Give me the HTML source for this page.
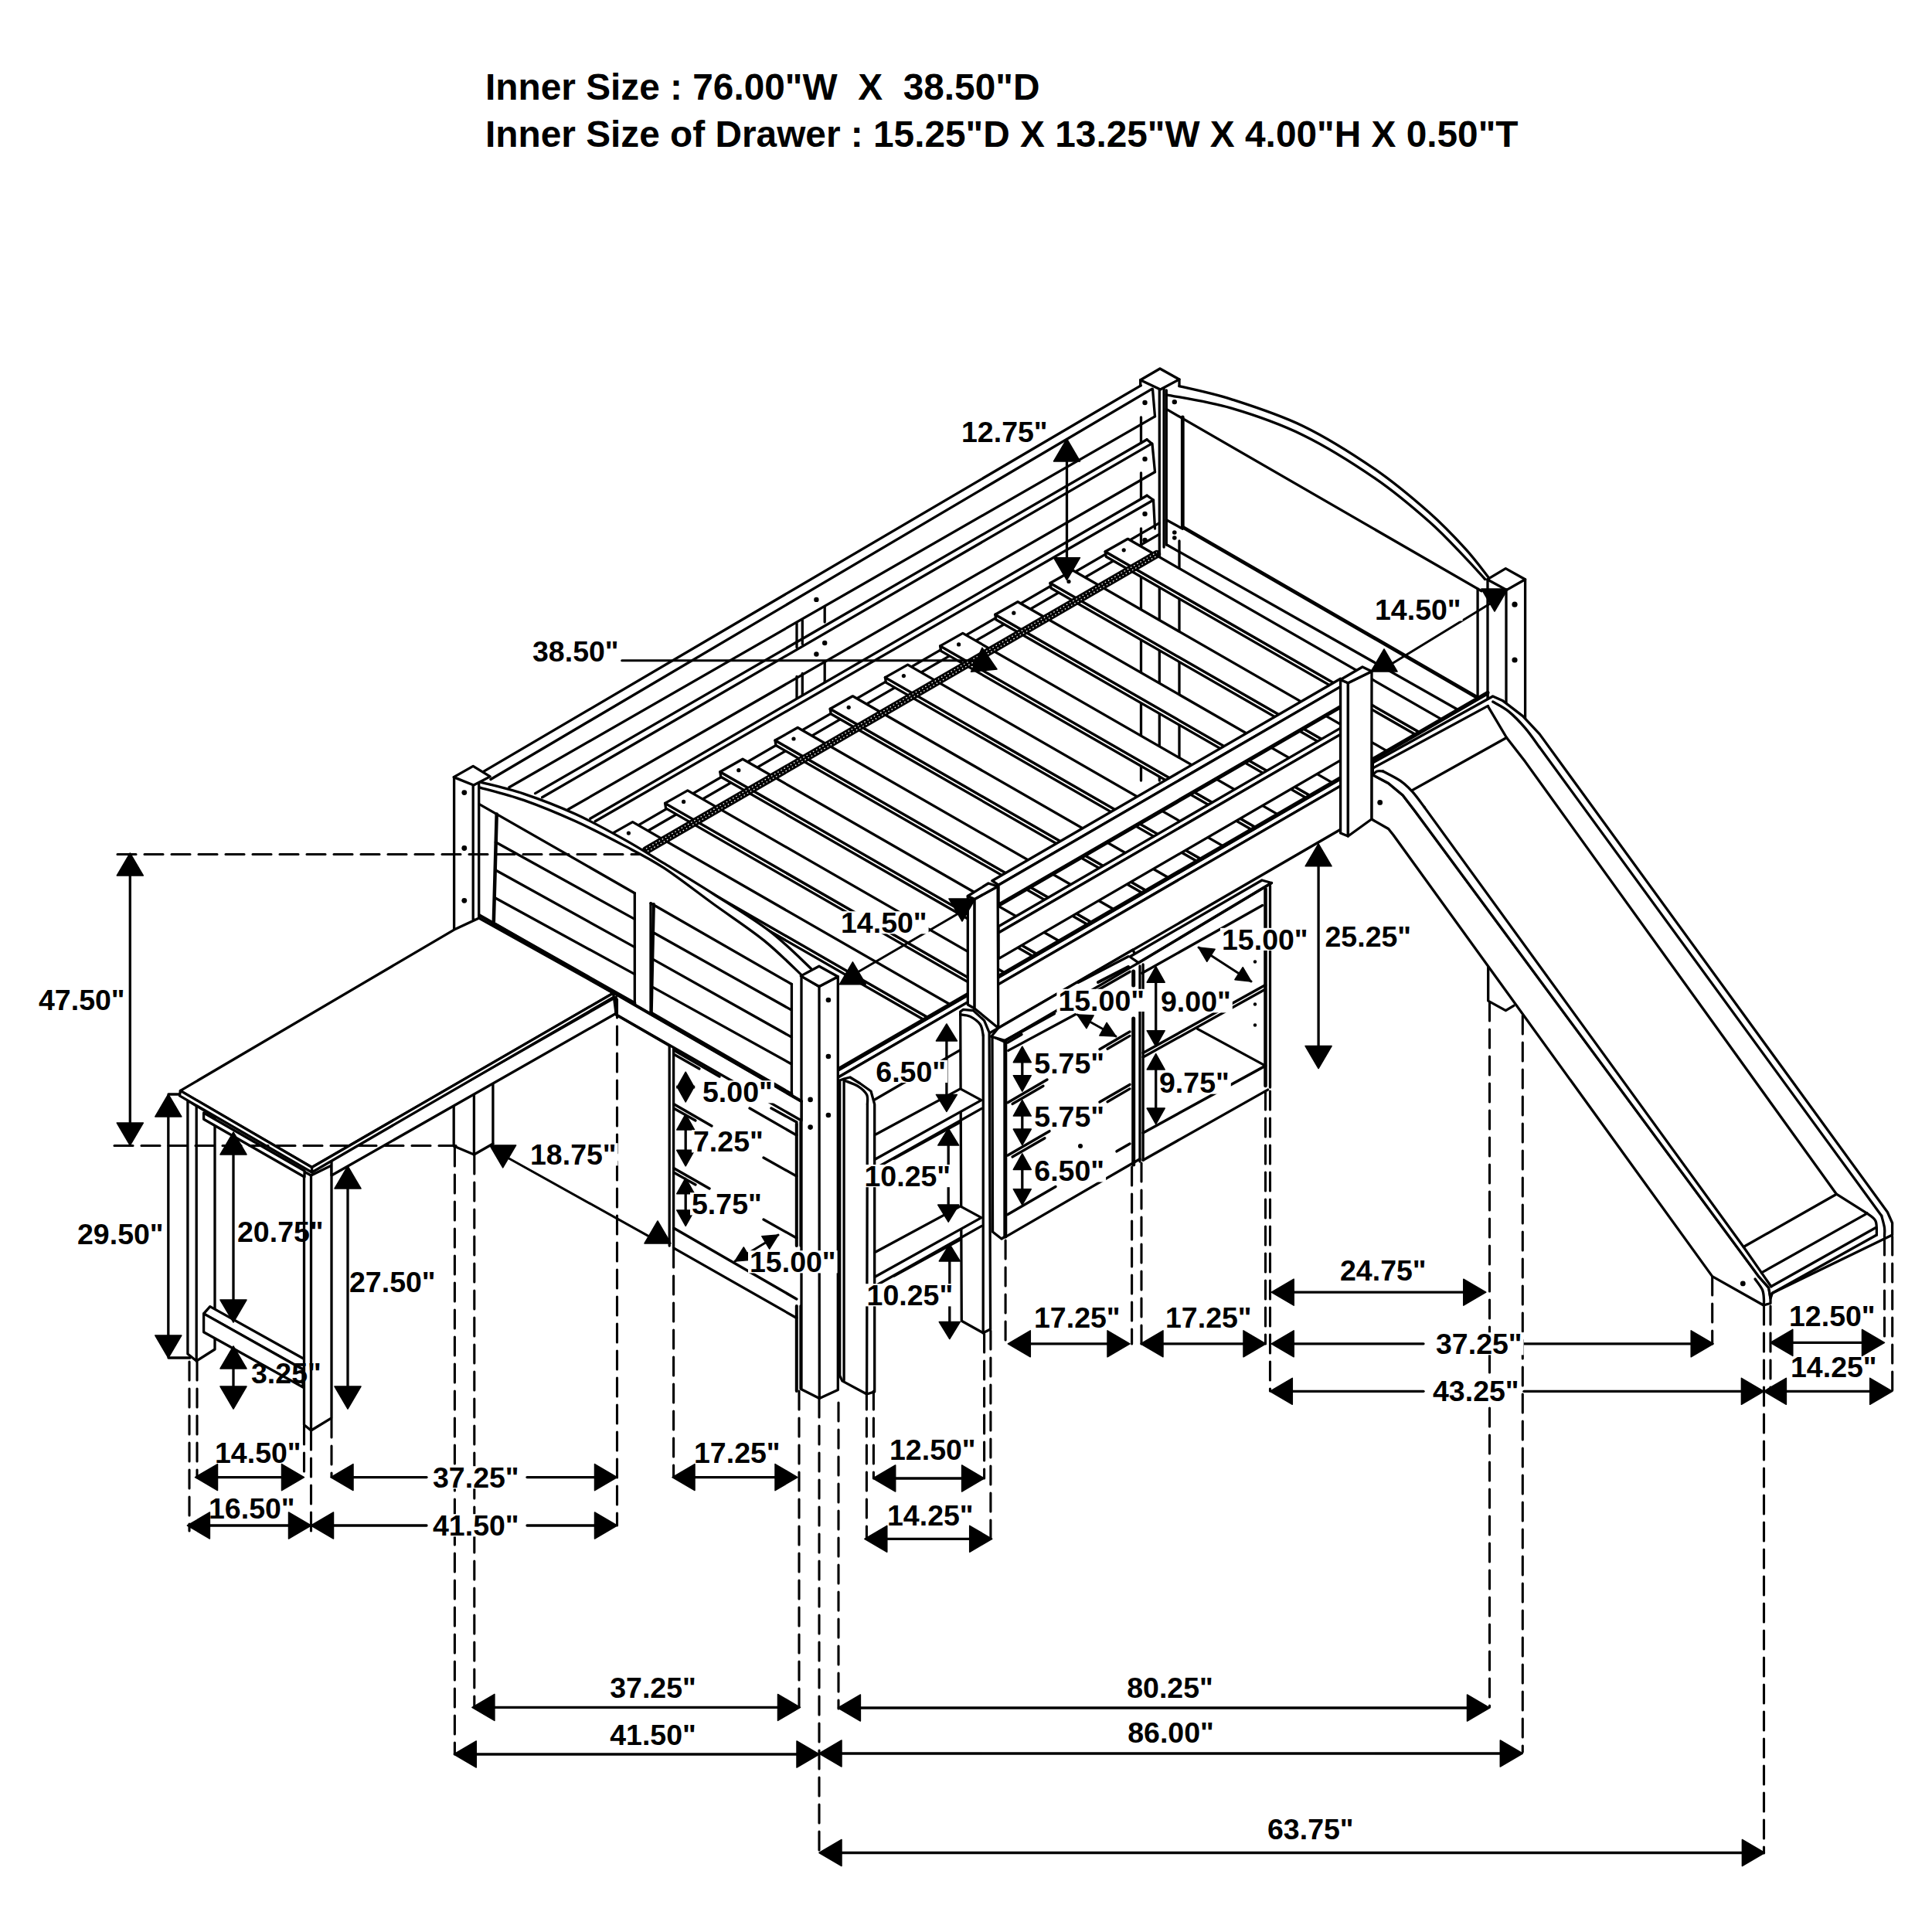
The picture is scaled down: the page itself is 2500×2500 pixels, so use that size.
<!DOCTYPE html>
<html><head><meta charset="utf-8"><title>Loft bed dimensions</title>
<style>
html,body{margin:0;padding:0;background:#fff;}
svg{display:block;}
text{font-family:"Liberation Sans",sans-serif;font-weight:bold;font-size:37.5px;white-space:pre;fill:#000;stroke:none;}
</style></head><body>
<svg width="2500" height="2500" viewBox="0 0 2500 2500">
<rect width="2500" height="2500" fill="#fff"/>
<g fill="none" stroke="#000" stroke-width="3.3" stroke-linecap="round" stroke-linejoin="round">
<path d="M622.7 1000.2 L1476.3 498.8"/>
<path d="M634.9 1008.5 L1490.6 503.3"/>
<path d="M658.9 1018.8 L1494.5 538.9"/>
<path d="M692.6 1026.6 L1484.1 568.7"/>
<path d="M701.6 1031.8 L1490.6 573.9"/>
<path d="M735.3 1047.3 L1494.5 610.7"/>
<path d="M763.8 1059.2 L1484.1 641.2"/>
<path d="M770.2 1062.8 L1492.5 647"/>
<path d="M1491.5 503.5 L1494.5 538.9"/>
<path d="M1484.1 568.7 L1491 574.5 L1494.5 610.7"/>
<path d="M1484.1 641.2 L1492.5 647 L1494.5 684"/>
<path d="M1476.5 540 L1476.5 573"/>
<path d="M1476.5 612 L1476.5 645"/>
<path d="M1031 806.7 L1031 837.5"/>
<path d="M1038.3 802.5 L1038.3 833.3"/>
<path d="M1067.2 785 L1067.2 805"/>
<path d="M1031 875.5 L1031 902.7"/>
<path d="M1038.3 871.3 L1038.3 898.5"/>
<path d="M1067.2 857.4 L1067.2 882.8"/>
<circle cx="1056.4" cy="775.9" r="3.2" fill="#000" stroke="none"/>
<circle cx="1067.2" cy="832" r="3.2" fill="#000" stroke="none"/>
<circle cx="1056.4" cy="846.5" r="3.2" fill="#000" stroke="none"/>
<path d="M1475.7 491.7 L1501 477 L1526 491 L1501.5 504 L1475.7 491.7"/>
<path d="M1475.7 491.7 L1475.7 499"/>
<path d="M1526 491 L1526 499.5"/>
<path d="M1500.3 504 L1500.3 1010"/>
<path d="M1506.1 503 L1506.1 708"/>
<path d="M1476.5 684 L1476.5 1010"/>
<path d="M1526 700 L1526 1010"/>
<circle cx="1481.5" cy="521" r="3.2" fill="#000" stroke="none"/>
<circle cx="1481.5" cy="594" r="3.2" fill="#000" stroke="none"/>
<circle cx="1481.5" cy="665" r="3.2" fill="#000" stroke="none"/>
<circle cx="1481.5" cy="699" r="3.2" fill="#000" stroke="none"/>
<path d="M1924.4 749.8 L1948.3 735.6 L1973.6 749.8 L1949.6 763.4Z" fill="#fff"/>
<path d="M1925 750 L1925 902"/>
<path d="M1949 763.4 L1949 912"/>
<path d="M1973.6 749.8 L1973.6 943"/>
<circle cx="1960" cy="782.2" r="3.6" fill="#000" stroke="none"/>
<circle cx="1960" cy="854" r="3.6" fill="#000" stroke="none"/>
<path d="M1912.1 762 L1912.1 903"/>
<path d="M1509.3 505 L1509.3 705"/>
<path d="M1526 499.7 C1537.2 502.5 1566.5 508 1593.2 516.6 C1619.9 525.2 1655.4 536.4 1686.4 551.5 C1717.5 566.6 1752.3 588.8 1779.5 607.4 C1806.7 626 1830 646.2 1849.4 663.3 C1868.8 680.4 1883.2 695.9 1896 709.9 C1908.8 723.9 1921 740.8 1926 747"/>
<path d="M1509.3 510.8 C1523.3 513.7 1563.7 519.5 1593.2 528.2 C1622.7 536.9 1655.4 548.1 1686.4 563.2 C1717.5 578.4 1752.3 600.5 1779.5 619.1 C1806.7 637.7 1830 657.9 1849.4 675 C1868.8 692.1 1884 709.2 1896 721.6 C1908 734 1917.3 744.9 1921.6 749.5"/>
<path d="M1509.3 529.4 L1917 764.7"/>
<path d="M1530.3 540 L1530.3 682" stroke-width="4.8"/>
<path d="M1530.3 682 L1914.6 904.4" stroke-width="4.8"/>
<path d="M1509.3 672.7 L1530.3 684.3"/>
<path d="M1510 705 L1900 926"/>
<circle cx="1519.8" cy="520.1" r="3.2" fill="#000" stroke="none"/>
<circle cx="1519.8" cy="689" r="2.8" fill="#000" stroke="none"/>
<circle cx="1519.8" cy="696" r="2.8" fill="#000" stroke="none"/>
<path d="M818.6 1072.1 L1500 676.9"/>
<path d="M828.6 1080.8 L1500 691.4"/>
<path d="M1430.2 713.8 L1431.2 720.3 L1839 954.8 L1838 948.3Z" fill="#fff"/>
<path d="M1430.2 713.8 L1459.4 697.3 L1866.8 931.6 L1838 948.3Z" fill="#fff"/>
<circle cx="1454.2" cy="711.8" r="2.6" fill="#000" stroke="none"/>
<path d="M1359 754.5 L1360 761 L1768.3 995.8 L1767.3 989.3Z" fill="#fff"/>
<path d="M1359 754.5 L1388.2 738 L1796.1 972.6 L1767.3 989.3Z" fill="#fff"/>
<circle cx="1383" cy="752.5" r="2.6" fill="#000" stroke="none"/>
<path d="M1287.8 795.2 L1288.8 801.7 L1697.6 1036.8 L1696.6 1030.3Z" fill="#fff"/>
<path d="M1287.8 795.2 L1317 778.7 L1725.4 1013.6 L1696.6 1030.3Z" fill="#fff"/>
<circle cx="1311.8" cy="793.2" r="2.6" fill="#000" stroke="none"/>
<path d="M1216.6 835.9 L1217.6 842.4 L1626.9 1077.8 L1625.9 1071.3Z" fill="#fff"/>
<path d="M1216.6 835.9 L1245.8 819.4 L1654.8 1054.6 L1625.9 1071.3Z" fill="#fff"/>
<circle cx="1240.6" cy="833.9" r="2.6" fill="#000" stroke="none"/>
<path d="M1145.4 876.6 L1146.4 883.1 L1556.3 1118.8 L1555.3 1112.3Z" fill="#fff"/>
<path d="M1145.4 876.6 L1174.6 860.1 L1584.1 1095.6 L1555.3 1112.3Z" fill="#fff"/>
<circle cx="1169.4" cy="874.6" r="2.6" fill="#000" stroke="none"/>
<path d="M1074.2 917.3 L1075.2 923.8 L1485.6 1159.8 L1484.6 1153.3Z" fill="#fff"/>
<path d="M1074.2 917.3 L1103.4 900.8 L1513.4 1136.5 L1484.6 1153.3Z" fill="#fff"/>
<circle cx="1098.2" cy="915.3" r="2.6" fill="#000" stroke="none"/>
<path d="M1003 958 L1004 964.5 L1414.9 1200.8 L1413.9 1194.3Z" fill="#fff"/>
<path d="M1003 958 L1032.2 941.5 L1442.7 1177.5 L1413.9 1194.3Z" fill="#fff"/>
<circle cx="1027" cy="956" r="2.6" fill="#000" stroke="none"/>
<path d="M931.8 998.7 L932.8 1005.2 L1344.2 1241.8 L1343.2 1235.3Z" fill="#fff"/>
<path d="M931.8 998.7 L961 982.2 L1372 1218.5 L1343.2 1235.3Z" fill="#fff"/>
<circle cx="955.8" cy="996.7" r="2.6" fill="#000" stroke="none"/>
<path d="M860.6 1039.4 L861.6 1045.9 L1273.5 1282.8 L1272.5 1276.3Z" fill="#fff"/>
<path d="M860.6 1039.4 L889.8 1022.9 L1301.3 1259.5 L1272.5 1276.3Z" fill="#fff"/>
<circle cx="884.6" cy="1037.4" r="2.6" fill="#000" stroke="none"/>
<path d="M789.4 1080.1 L790.4 1086.6 L1202.8 1323.8 L1201.8 1317.3Z" fill="#fff"/>
<path d="M789.4 1080.1 L818.6 1063.6 L1230.7 1300.5 L1201.8 1317.3Z" fill="#fff"/>
<circle cx="813.4" cy="1078.1" r="2.6" fill="#000" stroke="none"/>
<path d="M836 1100.4 L1497 717" stroke-width="10.5"/>
<path d="M836 1098.2 L1497 714.8" stroke-width="1.3" stroke-dasharray="1.6 3.2" stroke="#fff" stroke-linecap="butt"/>
<path d="M838 1101.4 L1497 719.2" stroke-width="1.3" stroke-dasharray="1.6 3.2" stroke="#fff" stroke-linecap="butt"/>
<path d="M1084.3 1385.4 L1925 897.8 L1925 906.6 L1084.3 1394.2Z" fill="#fff"/>
<path d="M1084.3 1394.2 L1925 906.6 L1925 962.9 L1084.3 1450.5Z" fill="#fff"/>
<path d="M1084.3 1383.9 L1925 896.3" stroke-width="5"/>
<path d="M1292.1 1198.7 L1734.6 942.1 L1734.6 950.4 L1292.1 1207Z" fill="#fff"/>
<path d="M1292.1 1207 L1734.6 950.4 L1734.6 983.9 L1292.1 1240.6Z" fill="#fff"/>
<path d="M1283.8 1139.7 L1734.6 878.3 L1734.6 888.6 L1292.1 1145.2Z" fill="#fff"/>
<path d="M1292.1 1145.2 L1734.6 888.6 L1734.6 913.6 L1292.1 1170.2Z" fill="#fff"/>
<path d="M1292.1 1171.7 L1734.6 915.1" stroke-width="4.5"/>
<path d="M619.7 1012.1 L649.2 1018.8 L677.6 1027.1 L711.3 1039.3 L744.9 1053.5 L776 1069 L807 1085.9 L832.9 1100.9 L858.8 1116.9 L891.1 1136.9 L923.5 1157 L959.7 1180.3 L996 1204.9 L1024.4 1229.5 L1050.3 1254.1 L1037.4 1261.9 L1037.4 1424.9 L619.7 1184.2Z" fill="#fff" stroke="none"/>
<path d="M587.1 1005.6 L612.2 991.4 L634.2 1004.9 L612.9 1016Z" fill="#fff"/>
<path d="M587.6 1005.6 L587.6 1204.9"/>
<path d="M612.2 1016 L612.2 1189.4"/>
<path d="M619.7 1013.4 L619.7 1186.8"/>
<circle cx="600.8" cy="1025.6" r="3.4" fill="#000" stroke="none"/>
<circle cx="600.8" cy="1097.5" r="3.4" fill="#000" stroke="none"/>
<circle cx="600.8" cy="1165.3" r="3.4" fill="#000" stroke="none"/>
<path d="M622 1012.1 C631.3 1014.6 657.2 1020.2 677.6 1027.1 C698.1 1034 723.4 1043.7 744.9 1053.5 C766.5 1063.3 788.1 1075.3 807 1085.9 C826 1096.4 839.4 1105.1 858.8 1116.9 C878.2 1128.8 900.6 1142.4 923.5 1157 C946.4 1171.7 974.8 1188.7 996 1204.9 C1017.1 1221.1 1041.3 1245.9 1050.3 1254.1"/>
<path d="M620.2 1018.8 C629.8 1021.6 656.8 1028.1 677.6 1035.4 C698.4 1042.7 723.4 1053.1 744.9 1062.8 C766.5 1072.6 788.1 1083.9 807 1093.9 C826 1103.9 839.4 1110.2 858.8 1122.9 C878.2 1135.6 901.9 1154.4 923.5 1170 C945.1 1185.6 969.2 1201.3 988.2 1216.6 C1007.2 1231.9 1029.2 1254.3 1037.4 1261.9"/>
<path d="M620.2 1040.6 L821.3 1155.7"/>
<path d="M842 1168.7 L1024.4 1273.5"/>
<path d="M642.7 1053.5 L638.8 1193.3" stroke-width="4.5"/>
<path d="M641.4 1089.8 L821.3 1189.4"/>
<path d="M641.4 1126 L821.3 1225.6"/>
<path d="M641.4 1162.2 L821.3 1260.6"/>
<path d="M620.2 1184.2 L821.3 1298.1" stroke-width="4"/>
<path d="M842 1310.2 L1024.4 1415.8" stroke-width="4"/>
<path d="M821.3 1155.7 L821.3 1298.1"/>
<path d="M842 1168.7 L842 1310.2"/>
<path d="M845.9 1170 L842.8 1310.2" stroke-width="4"/>
<path d="M844.6 1206.2 L1024.4 1307.1"/>
<path d="M844.6 1241.1 L1024.4 1342.1"/>
<path d="M844.6 1277.4 L1024.4 1377"/>
<path d="M1024.4 1273.5 L1024.4 1415.8"/>
<path d="M1037 1263 L1060 1276.5 L1084.3 1263.8 L1084.3 1798.5 L1060.3 1809.4 L1037 1797.8Z" fill="#fff"/>
<path d="M1036.3 1262.9 L1059.9 1250.2 L1084.3 1263.8 L1059.9 1276.5Z" fill="#fff"/>
<path d="M1060 1276.5 L1060.3 1809.4"/>
<circle cx="1071.9" cy="1294" r="3.3" fill="#000" stroke="none"/>
<circle cx="1071.9" cy="1367" r="3.3" fill="#000" stroke="none"/>
<circle cx="1071.9" cy="1443" r="3.3" fill="#000" stroke="none"/>
<circle cx="1048.6" cy="1422.9" r="3.3" fill="#000" stroke="none"/>
<circle cx="1048.6" cy="1458.6" r="3.3" fill="#000" stroke="none"/>
<path d="M587.2 1205 L587.2 1483"/>
<path d="M613.4 1190 L613.4 1494"/>
<path d="M637.9 1195 L637.9 1480"/>
<path d="M587.2 1483 L613.4 1494 L637.9 1480"/>
<path d="M242.9 1424 L254.2 1431 L278 1445 L278 1746 L254.2 1761 L242.9 1752Z" fill="#fff"/>
<path d="M254.2 1431 L254.2 1761"/>
<path d="M271.8 1690.6 L398 1761 L392 1772 L263.6 1699.9Z" fill="#fff"/>
<path d="M263.6 1699.9 L392 1772 L392 1795 L263.6 1723.7Z" fill="#fff"/>
<path d="M393.5 1516 L402.5 1521 L429 1508 L429 1834.8 L402.5 1851 L393.5 1843.8Z" fill="#fff"/>
<path d="M402.5 1521 L402.5 1851"/>
<path d="M263.6 1440 L394 1515 L394 1523 L263.6 1448.3Z" fill="#fff"/>
<path d="M429 1500 L797.3 1290 L797.3 1311.2 L429 1521Z" fill="#fff"/>
<path d="M233.4 1411.4 L587.6 1203.1 L619.8 1188 L793.7 1285 L403.6 1510.5Z" fill="#fff"/>
<path d="M233.4 1411.4 L403.6 1510.5 L403.6 1517 L232.4 1417.9Z" fill="#fff"/>
<path d="M403.6 1510.5 L793.7 1285 L794.7 1290 L403.6 1517Z" fill="#fff"/>
<path d="M1774.8 990 L1776.4 1002.7 L1796.6 1013.5 L1815.2 1029.1 L1830.7 1049.3 L2276.3 1652.4 L2288.7 1666.3 L2291 1680.3 L2291 1686.5 L2282 1689 L2215.7 1651.6 L1802.8 1080.3 L1796.6 1072.5 L1774.8 1060Z" fill="#fff"/>
<path d="M1776.4 987.1 L1931.7 901 L1944.1 906.4 L1970.5 926.6 L1992.2 949.9 L2442.4 1568.5 L2448.6 1582.5 L2448.6 1598 L2293.4 1673.3 L2291 1680.3 L2288.7 1666.3 L2276.3 1652.4 L1830.7 1049.3 L1815.2 1029.1 L1796.6 1013.5 L1776.4 1002.7Z" fill="#fff"/>
<path d="M1776.4 994.1 L1925.5 913.4"/>
<path d="M1789.6 998 C1793.3 1000.1 1805.8 1006 1812.1 1010.4 C1818.4 1014.8 1822.4 1018.7 1827.6 1024.4 C1832.8 1030.1 1840.6 1041.2 1843.2 1044.6"/>
<path d="M1843.2 1044.6 L2256.1 1613.5 L2279.4 1646.9 L2291.8 1664.8"/>
<path d="M1776.4 1002.7 C1777.3 1001.9 1779.8 998.8 1782 998 C1784.2 997.2 1788.3 998 1789.6 998"/>
<path d="M1826.9 1022.9 L1949.5 954.5"/>
<path d="M2256.1 1613.5 L2376.4 1545.2"/>
<path d="M2279.4 1646.9 L2416 1570.1"/>
<path d="M2291.8 1664.8 L2426.9 1588.7"/>
<path d="M2293.4 1673.3 L2428.4 1598"/>
<path d="M1925.5 914.2 L1949.5 954.5 L1973.6 985.6 L2376.4 1545.2 L2416 1570.1"/>
<path d="M2416 1570.1 C2417.8 1571.8 2424.9 1575.3 2427 1580 C2429.1 1584.7 2428.2 1595 2428.4 1598"/>
<path d="M1931.7 908 C1935.1 910.1 1944.9 914.7 1951.9 920.4 C1958.9 926.1 1966.9 934.3 1973.6 942.1 C1980.3 949.9 1989.1 962.9 1992.2 967"/>
<path d="M1992.2 967 L2434.7 1573.2"/>
<path d="M2434.7 1573.2 C2435.3 1575.8 2437.9 1584.3 2438.5 1588.7 C2439.1 1593.1 2438.5 1597.8 2438.5 1599.6"/>
<path d="M2271 1655 C2272.6 1657.3 2278.6 1664.5 2280.5 1669 C2282.4 1673.5 2282.2 1678.7 2282.5 1682 C2282.8 1685.3 2282.1 1687.8 2282 1689"/>
<circle cx="1785.7" cy="1038.4" r="3.4" fill="#000" stroke="none"/>
<circle cx="2255.3" cy="1660.9" r="3.4" fill="#000" stroke="none"/>
<path d="M1925.7 1251.7 L1925.7 1295.1 L1948.4 1307.6 L1958.8 1301.3"/>
<path d="M639.7 1195.3 L1037 1425 L1037 1450 L797.3 1313 L793.7 1285Z" fill="#fff"/>
<path d="M639.7 1195.3 L1037 1425" stroke-width="4"/>
<path d="M797.3 1290 L797.3 1313 L866.2 1353"/>
<path d="M866.2 1353 L866.2 1612"/>
<path d="M871.6 1356 L871.6 1615"/>
<path d="M871.6 1358.7 L931 1393" stroke-width="3.5"/>
<path d="M871.6 1364 L905 1383"/>
<path d="M871.6 1428.6 L921 1457" stroke-width="3.5"/>
<path d="M871.6 1434 L900 1450"/>
<path d="M871.6 1511.4 L918 1538" stroke-width="3.5"/>
<path d="M871.6 1517 L900 1533"/>
<path d="M871.6 1589 L1030.8 1680.9" stroke-width="3.5"/>
<path d="M871.6 1614.9 L1030.8 1705.5"/>
<path d="M970 1434 L1030.8 1469"/>
<path d="M998 1434 L1030.8 1452" stroke-width="3.5"/>
<path d="M988 1498 L1030.8 1522"/>
<path d="M988 1578 L1030.8 1602"/>
<path d="M1030.8 1454 L1030.8 1612" stroke-width="4"/>
<path d="M1036 1452 L1036 1612"/>
<path d="M1030.8 1690 L1030.8 1800" stroke-width="4"/>
<path d="M1036 1690 L1036 1797"/>
<path d="M1086.7 1398 L1092.1 1396 L1100 1394 L1113 1402 L1127 1412 L1131.7 1429 L1131.7 1800.9 L1121.6 1804 L1089.8 1786.9 L1086.7 1780Z" fill="#fff"/>
<path d="M1092.1 1398 C1095.2 1399.3 1105.8 1402.7 1110.7 1405.8 C1115.6 1408.9 1119.6 1412.7 1121.6 1416.6 C1123.5 1420.5 1122.3 1426.9 1122.4 1429"/>
<path d="M1122.4 1429 L1121.6 1804"/>
<path d="M1092.1 1398 L1092.1 1786"/>
<path d="M1242.7 1309 L1246.5 1306.3 L1259.4 1307.6 L1273.6 1320.6 L1280.1 1336.1 L1281.6 1720.1 L1272.2 1724.8 L1244.3 1709.3Z" fill="#fff"/>
<path d="M1242.6 1312.8 C1244.8 1313.2 1251.2 1313.2 1255.5 1315.4 C1259.8 1317.6 1265.7 1321.7 1268.5 1325.8 C1271.3 1329.9 1271.7 1337.6 1272.3 1340"/>
<path d="M1272.3 1340 L1272.2 1724.8"/>
<path d="M1131.7 1468.7 L1242.7 1408.9 L1269.9 1423.6 L1131.7 1500.5Z" fill="#fff"/>
<path d="M1131.7 1512.5 L1269.9 1434.6"/>
<path d="M1157 1499 L1242.7 1452"/>
<path d="M1131.7 1620.7 L1242.7 1560.9 L1269.9 1575.6 L1131.7 1652.5Z" fill="#fff"/>
<path d="M1131.7 1664.5 L1269.9 1586.6"/>
<path d="M1157 1651 L1242.7 1604"/>
<path d="M1284 1341 L1300.8 1348.4 L1300.8 1600 L1296 1603 L1284.5 1594Z" fill="#fff"/>
<path d="M1300.8 1348.4 L1300.8 1600" stroke-width="5"/>
<path d="M1282.7 1341.3 L1291.8 1330.3 L1466 1229 L1473.3 1245.8 L1300.8 1346.5Z" fill="#fff"/>
<path d="M1300.8 1346.5 L1364.2 1311.5" stroke-width="4"/>
<path d="M1304.7 1359.4 L1391.4 1312.8"/>
<path d="M1395.3 1271.4 L1460 1237.8"/>
<path d="M1421 1271 L1460 1251" stroke-width="4"/>
<path d="M1304 1349 L1322 1338.6" stroke-width="3.5"/>
<path d="M1421 1281.1 L1462 1257.4" stroke-width="3.5"/>
<path d="M1304 1426.7 L1355 1397.1" stroke-width="3.5"/>
<path d="M1423 1357.7 L1462 1335.1" stroke-width="3.5"/>
<path d="M1310 1428.5 L1350 1405.3"/>
<path d="M1433 1357.2 L1462 1340.4"/>
<path d="M1304 1495 L1358 1463.7" stroke-width="3.5"/>
<path d="M1423 1426 L1462 1403.4" stroke-width="3.5"/>
<path d="M1310 1497 L1352 1472.7"/>
<path d="M1433 1425.7 L1462 1408.9"/>
<path d="M1304 1571.6 L1366 1535.6" stroke-width="3.5"/>
<path d="M1445 1489.8 L1462 1480" stroke-width="3.5"/>
<path d="M1301 1600.6 L1475 1499.7"/>
<path d="M1466.7 1257 L1466.7 1275" stroke-width="5"/>
<path d="M1466.7 1318 L1466.7 1507" stroke-width="5"/>
<path d="M1475 1250 L1475 1503"/>
<path d="M1473.3 1245.8 L1462 1238 L1633 1139 L1645.4 1142.5Z" fill="#fff"/>
<path d="M1473.3 1245.8 L1645.4 1142.5" stroke-width="3.5"/>
<path d="M1477.8 1259.3 L1633.6 1171.5"/>
<path d="M1479.1 1248 L1479.1 1501.2"/>
<path d="M1637.5 1150 L1637.5 1405" stroke-width="4.5"/>
<path d="M1643.5 1146 L1643.5 1407"/>
<path d="M1479.1 1362.5 L1637.5 1274.5" stroke-width="3.5"/>
<path d="M1479.1 1368 L1637.5 1280"/>
<path d="M1479.1 1466 L1637.5 1379.1" stroke-width="3.5"/>
<path d="M1479.1 1501.2 L1640.6 1410.1"/>
<path d="M1549.5 1331.4 L1637.5 1379.1"/>
<circle cx="1624" cy="1244.5" r="2.2" fill="#000" stroke="none"/>
<circle cx="1624" cy="1299.5" r="2.2" fill="#000" stroke="none"/>
<circle cx="1624" cy="1326.5" r="2.2" fill="#000" stroke="none"/>
<circle cx="1398" cy="1483" r="3" fill="#000" stroke="none"/>
<path d="M1252.3 1159.5 L1261.1 1163.5 L1261.1 1305 L1252.3 1300Z" fill="#fff"/>
<path d="M1261.1 1163.5 L1291.1 1147 L1291.8 1330.3 L1261.1 1305Z" fill="#fff"/>
<path d="M1252.3 1159.5 L1279 1143 L1291.1 1147 L1261.1 1163.5Z" fill="#fff"/>
<path d="M1734.6 879.5 L1744.4 883.7 L1744.4 1082 L1734.6 1078Z" fill="#fff"/>
<path d="M1744.4 883.7 L1775 868.7 L1774.8 1060 L1744.4 1082Z" fill="#fff"/>
<path d="M1734.6 879.5 L1763 863 L1775 868.7 L1744.4 883.7Z" fill="#fff"/>
<path d="M168.3 1109 L168.3 1477"/>
<path d="M168.3 1104 L185.3 1133 L151.3 1133 Z" fill="#000" stroke="#000" stroke-width="1.5" stroke-linejoin="round"/>
<path d="M168.3 1482 L151.3 1453 L185.3 1453 Z" fill="#000" stroke="#000" stroke-width="1.5" stroke-linejoin="round"/>
<path d="M152 1105.5 L828 1105.5" stroke-width="3.1" stroke-dasharray="24 11"/>
<path d="M148 1482.5 L590 1482.5" stroke-width="3.1" stroke-dasharray="24 11"/>
<path d="M217.8 1421 L217.8 1752"/>
<path d="M217.8 1416 L234.8 1445 L200.8 1445 Z" fill="#000" stroke="#000" stroke-width="1.5" stroke-linejoin="round"/>
<path d="M217.8 1757 L200.8 1728 L234.8 1728 Z" fill="#000" stroke="#000" stroke-width="1.5" stroke-linejoin="round"/>
<path d="M218 1416 L232 1416"/>
<path d="M218 1757 L246 1757"/>
<path d="M302 1470 L302 1706"/>
<path d="M302 1465 L319 1494 L285 1494 Z" fill="#000" stroke="#000" stroke-width="1.5" stroke-linejoin="round"/>
<path d="M302 1711 L285 1682 L319 1682 Z" fill="#000" stroke="#000" stroke-width="1.5" stroke-linejoin="round"/>
<path d="M302 1747 L302 1818"/>
<path d="M302 1742 L319 1771 L285 1771 Z" fill="#000" stroke="#000" stroke-width="1.5" stroke-linejoin="round"/>
<path d="M302 1823 L285 1794 L319 1794 Z" fill="#000" stroke="#000" stroke-width="1.5" stroke-linejoin="round"/>
<path d="M450 1514 L450 1818"/>
<path d="M450 1509 L467 1538 L433 1538 Z" fill="#000" stroke="#000" stroke-width="1.5" stroke-linejoin="round"/>
<path d="M450 1823 L433 1794 L467 1794 Z" fill="#000" stroke="#000" stroke-width="1.5" stroke-linejoin="round"/>
<path d="M257.5 1911.6 L388.5 1911.6"/>
<path d="M252.5 1911.6 L281.5 1894.6 L281.5 1928.6 Z" fill="#000" stroke="#000" stroke-width="1.5" stroke-linejoin="round"/>
<path d="M393.5 1911.6 L364.5 1928.6 L364.5 1894.6 Z" fill="#000" stroke="#000" stroke-width="1.5" stroke-linejoin="round"/>
<path d="M247.4 1974 L397.5 1974"/>
<path d="M242.4 1974 L271.4 1957 L271.4 1991 Z" fill="#000" stroke="#000" stroke-width="1.5" stroke-linejoin="round"/>
<path d="M402.5 1974 L373.5 1991 L373.5 1957 Z" fill="#000" stroke="#000" stroke-width="1.5" stroke-linejoin="round"/>
<path d="M433 1911.6 L552 1911.6"/>
<path d="M682 1911.6 L793.5 1911.6"/>
<path d="M428 1911.6 L457 1894.6 L457 1928.6 Z" fill="#000" stroke="#000" stroke-width="1.5" stroke-linejoin="round"/>
<path d="M798.5 1911.6 L769.5 1928.6 L769.5 1894.6 Z" fill="#000" stroke="#000" stroke-width="1.5" stroke-linejoin="round"/>
<path d="M407.5 1974 L552 1974"/>
<path d="M682 1974 L793.5 1974"/>
<path d="M402.5 1974 L431.5 1957 L431.5 1991 Z" fill="#000" stroke="#000" stroke-width="1.5" stroke-linejoin="round"/>
<path d="M798.5 1974 L769.5 1991 L769.5 1957 Z" fill="#000" stroke="#000" stroke-width="1.5" stroke-linejoin="round"/>
<path d="M245 1762 L245 1981" stroke-width="3.1" stroke-dasharray="24 11"/>
<path d="M255 1762 L255 1911" stroke-width="3.1" stroke-dasharray="24 11"/>
<path d="M393.5 1845 L393.5 1911" stroke-width="3.1" stroke-dasharray="24 11"/>
<path d="M402.5 1852 L402.5 1981" stroke-width="3.1" stroke-dasharray="24 11"/>
<path d="M429 1836 L429 1911" stroke-width="3.1" stroke-dasharray="24 11"/>
<path d="M588.4 1485 L588.4 2270" stroke-width="3.1" stroke-dasharray="24 11"/>
<path d="M613.8 1495 L613.8 2209" stroke-width="3.1" stroke-dasharray="24 11"/>
<path d="M798.5 1293 L798.5 1974" stroke-width="3.1" stroke-dasharray="24 11"/>
<path d="M875 1911.6 L1027 1911.6"/>
<path d="M870 1911.6 L899 1894.6 L899 1928.6 Z" fill="#000" stroke="#000" stroke-width="1.5" stroke-linejoin="round"/>
<path d="M1032 1911.6 L1003 1928.6 L1003 1894.6 Z" fill="#000" stroke="#000" stroke-width="1.5" stroke-linejoin="round"/>
<path d="M871.6 1616 L871.6 1911" stroke-width="3.1" stroke-dasharray="24 11"/>
<path d="M1134.7 1913 L1268.6 1913"/>
<path d="M1129.7 1913 L1158.7 1896 L1158.7 1930 Z" fill="#000" stroke="#000" stroke-width="1.5" stroke-linejoin="round"/>
<path d="M1273.6 1913 L1244.6 1930 L1244.6 1896 Z" fill="#000" stroke="#000" stroke-width="1.5" stroke-linejoin="round"/>
<path d="M1123.8 1991.3 L1278.7 1991.3"/>
<path d="M1118.8 1991.3 L1147.8 1974.3 L1147.8 2008.3 Z" fill="#000" stroke="#000" stroke-width="1.5" stroke-linejoin="round"/>
<path d="M1283.7 1991.3 L1254.7 2008.3 L1254.7 1974.3 Z" fill="#000" stroke="#000" stroke-width="1.5" stroke-linejoin="round"/>
<path d="M1121.4 1800 L1121.4 1991" stroke-width="3.1" stroke-dasharray="24 11"/>
<path d="M1130.4 1800 L1130.4 1913" stroke-width="3.1" stroke-dasharray="24 11"/>
<path d="M1273.6 1726 L1273.6 1913" stroke-width="3.1" stroke-dasharray="24 11"/>
<path d="M1281.9 1722 L1281.9 1991" stroke-width="3.1" stroke-dasharray="24 11"/>
<path d="M615.9 2209.4 L1030.5 2209.4"/>
<path d="M610.9 2209.4 L639.9 2192.4 L639.9 2226.4 Z" fill="#000" stroke="#000" stroke-width="1.5" stroke-linejoin="round"/>
<path d="M1035.5 2209.4 L1006.5 2226.4 L1006.5 2192.4 Z" fill="#000" stroke="#000" stroke-width="1.5" stroke-linejoin="round"/>
<path d="M592.3 2270 L1055 2270"/>
<path d="M587.3 2270 L616.3 2253 L616.3 2287 Z" fill="#000" stroke="#000" stroke-width="1.5" stroke-linejoin="round"/>
<path d="M1060 2270 L1031 2287 L1031 2253 Z" fill="#000" stroke="#000" stroke-width="1.5" stroke-linejoin="round"/>
<path d="M1089.4 2210 L1922.5 2210"/>
<path d="M1084.4 2210 L1113.4 2193 L1113.4 2227 Z" fill="#000" stroke="#000" stroke-width="1.5" stroke-linejoin="round"/>
<path d="M1927.5 2210 L1898.5 2227 L1898.5 2193 Z" fill="#000" stroke="#000" stroke-width="1.5" stroke-linejoin="round"/>
<path d="M1065 2269 L1965.3 2269"/>
<path d="M1060 2269 L1089 2252 L1089 2286 Z" fill="#000" stroke="#000" stroke-width="1.5" stroke-linejoin="round"/>
<path d="M1970.3 2269 L1941.3 2286 L1941.3 2252 Z" fill="#000" stroke="#000" stroke-width="1.5" stroke-linejoin="round"/>
<path d="M1065 2397.5 L2278.4 2397.5"/>
<path d="M1060 2397.5 L1089 2380.5 L1089 2414.5 Z" fill="#000" stroke="#000" stroke-width="1.5" stroke-linejoin="round"/>
<path d="M2283.4 2397.5 L2254.4 2414.5 L2254.4 2380.5 Z" fill="#000" stroke="#000" stroke-width="1.5" stroke-linejoin="round"/>
<path d="M1034 1800 L1034 2209" stroke-width="3.1" stroke-dasharray="24 11"/>
<path d="M1060 1810 L1060 2398" stroke-width="3.1" stroke-dasharray="24 11"/>
<path d="M1085 1815 L1085 2211" stroke-width="3.1" stroke-dasharray="24 11"/>
<path d="M1927.5 1297 L1927.5 2209" stroke-width="3.1" stroke-dasharray="24 11"/>
<path d="M1970.3 1314 L1970.3 2267" stroke-width="3.1" stroke-dasharray="24 11"/>
<path d="M2282.5 1690 L2282.5 2398" stroke-width="3.1" stroke-dasharray="24 11"/>
<path d="M2291 1690 L2291 1800" stroke-width="3.1" stroke-dasharray="24 11"/>
<path d="M1650.2 1672.2 L1917.8 1672.2"/>
<path d="M1645.2 1672.2 L1674.2 1655.2 L1674.2 1689.2 Z" fill="#000" stroke="#000" stroke-width="1.5" stroke-linejoin="round"/>
<path d="M1922.8 1672.2 L1893.8 1689.2 L1893.8 1655.2 Z" fill="#000" stroke="#000" stroke-width="1.5" stroke-linejoin="round"/>
<path d="M1650.2 1738.8 L1842 1738.8"/>
<path d="M1972 1738.8 L2212.2 1738.8"/>
<path d="M1645.2 1738.8 L1674.2 1721.8 L1674.2 1755.8 Z" fill="#000" stroke="#000" stroke-width="1.5" stroke-linejoin="round"/>
<path d="M2217.2 1738.8 L2188.2 1755.8 L2188.2 1721.8 Z" fill="#000" stroke="#000" stroke-width="1.5" stroke-linejoin="round"/>
<path d="M1648.3 1800.3 L1842 1800.3"/>
<path d="M1972 1800.3 L2277.4 1800.3"/>
<path d="M1643.3 1800.3 L1672.3 1783.3 L1672.3 1817.3 Z" fill="#000" stroke="#000" stroke-width="1.5" stroke-linejoin="round"/>
<path d="M2282.4 1800.3 L2253.4 1817.3 L2253.4 1783.3 Z" fill="#000" stroke="#000" stroke-width="1.5" stroke-linejoin="round"/>
<path d="M2295.8 1737.4 L2433.5 1737.4"/>
<path d="M2290.8 1737.4 L2319.8 1720.4 L2319.8 1754.4 Z" fill="#000" stroke="#000" stroke-width="1.5" stroke-linejoin="round"/>
<path d="M2438.5 1737.4 L2409.5 1754.4 L2409.5 1720.4 Z" fill="#000" stroke="#000" stroke-width="1.5" stroke-linejoin="round"/>
<path d="M2287.4 1800.3 L2443.7 1800.3"/>
<path d="M2282.4 1800.3 L2311.4 1783.3 L2311.4 1817.3 Z" fill="#000" stroke="#000" stroke-width="1.5" stroke-linejoin="round"/>
<path d="M2448.7 1800.3 L2419.7 1817.3 L2419.7 1783.3 Z" fill="#000" stroke="#000" stroke-width="1.5" stroke-linejoin="round"/>
<path d="M2215.7 1652 L2215.7 1739" stroke-width="3.1" stroke-dasharray="24 11"/>
<path d="M2438.5 1600 L2438.5 1737" stroke-width="3.1" stroke-dasharray="24 11"/>
<path d="M2448.7 1600 L2448.7 1800" stroke-width="3.1" stroke-dasharray="24 11"/>
<path d="M1380.5 573 L1380.5 745.7"/>
<path d="M1380.5 568 L1397.5 597 L1363.5 597 Z" fill="#000" stroke="#000" stroke-width="1.5" stroke-linejoin="round"/>
<path d="M1380.5 750.7 L1363.5 721.7 L1397.5 721.7 Z" fill="#000" stroke="#000" stroke-width="1.5" stroke-linejoin="round"/>
<path d="M804.7 854.7 L1262 854.7" stroke-width="3"/>
<path d="M1290 866 L1256.5 869.2 L1270.9 838.3 Z" fill="#000" stroke="#000" stroke-width="1.5" stroke-linejoin="round"/>
<path d="M1791 865 L1943 772" stroke-width="3"/>
<path d="M1791 840 L1808 869 L1774 869 Z" fill="#000" stroke="#000" stroke-width="1.5" stroke-linejoin="round"/>
<path d="M1934 791 L1917 762 L1951 762 Z" fill="#000" stroke="#000" stroke-width="1.5" stroke-linejoin="round"/>
<path d="M1103 1262 L1247 1178" stroke-width="3"/>
<path d="M1103.4 1244.8 L1120.4 1273.8 L1086.4 1273.8 Z" fill="#000" stroke="#000" stroke-width="1.5" stroke-linejoin="round"/>
<path d="M1245 1192 L1228 1163 L1262 1163 Z" fill="#000" stroke="#000" stroke-width="1.5" stroke-linejoin="round"/>
<path d="M1706.1 1096.8 L1706.1 1377.5"/>
<path d="M1706.1 1091.8 L1723.1 1120.8 L1689.1 1120.8 Z" fill="#000" stroke="#000" stroke-width="1.5" stroke-linejoin="round"/>
<path d="M1706.1 1382.5 L1689.1 1353.5 L1723.1 1353.5 Z" fill="#000" stroke="#000" stroke-width="1.5" stroke-linejoin="round"/>
<path d="M1551 1226 L1619 1270" stroke-width="3"/>
<path d="M1619 1270 L1597.9 1267.7 L1608.2 1251.7 Z" fill="#000" stroke="#000" stroke-width="1.5" stroke-linejoin="round"/>
<path d="M1551 1226 L1572.1 1228.3 L1561.8 1244.3 Z" fill="#000" stroke="#000" stroke-width="1.5" stroke-linejoin="round"/>
<path d="M1394 1313 L1444 1341" stroke-width="3"/>
<path d="M1444 1341 L1422.8 1340 L1432.1 1323.4 Z" fill="#000" stroke="#000" stroke-width="1.5" stroke-linejoin="round"/>
<path d="M1394 1313 L1415.2 1314 L1405.9 1330.6 Z" fill="#000" stroke="#000" stroke-width="1.5" stroke-linejoin="round"/>
<path d="M1495.7 1255.7 L1495.7 1349.2"/>
<path d="M1495.7 1250.7 L1507.2 1271.2 L1484.2 1271.2 Z" fill="#000" stroke="#000" stroke-width="1.5" stroke-linejoin="round"/>
<path d="M1495.7 1354.2 L1484.2 1333.7 L1507.2 1333.7 Z" fill="#000" stroke="#000" stroke-width="1.5" stroke-linejoin="round"/>
<path d="M1495.7 1368.5 L1495.7 1449.6"/>
<path d="M1495.7 1363.5 L1507.2 1384 L1484.2 1384 Z" fill="#000" stroke="#000" stroke-width="1.5" stroke-linejoin="round"/>
<path d="M1495.7 1454.6 L1484.2 1434.1 L1507.2 1434.1 Z" fill="#000" stroke="#000" stroke-width="1.5" stroke-linejoin="round"/>
<path d="M1322.8 1359.2 L1322.8 1407.2"/>
<path d="M1322.8 1354.2 L1334.3 1374.7 L1311.3 1374.7 Z" fill="#000" stroke="#000" stroke-width="1.5" stroke-linejoin="round"/>
<path d="M1322.8 1412.2 L1311.3 1391.7 L1334.3 1391.7 Z" fill="#000" stroke="#000" stroke-width="1.5" stroke-linejoin="round"/>
<path d="M1322.8 1428.6 L1322.8 1476.6"/>
<path d="M1322.8 1423.6 L1334.3 1444.1 L1311.3 1444.1 Z" fill="#000" stroke="#000" stroke-width="1.5" stroke-linejoin="round"/>
<path d="M1322.8 1481.6 L1311.3 1461.1 L1334.3 1461.1 Z" fill="#000" stroke="#000" stroke-width="1.5" stroke-linejoin="round"/>
<path d="M1322.8 1497.9 L1322.8 1554.2"/>
<path d="M1322.8 1492.9 L1334.3 1513.4 L1311.3 1513.4 Z" fill="#000" stroke="#000" stroke-width="1.5" stroke-linejoin="round"/>
<path d="M1322.8 1559.2 L1311.3 1538.7 L1334.3 1538.7 Z" fill="#000" stroke="#000" stroke-width="1.5" stroke-linejoin="round"/>
<path d="M1224.9 1330 L1224.9 1433.4"/>
<path d="M1224.9 1325 L1238.4 1347 L1211.4 1347 Z" fill="#000" stroke="#000" stroke-width="1.5" stroke-linejoin="round"/>
<path d="M1224.9 1438.4 L1211.4 1416.4 L1238.4 1416.4 Z" fill="#000" stroke="#000" stroke-width="1.5" stroke-linejoin="round"/>
<path d="M1227.2 1465.1 L1227.2 1576.1"/>
<path d="M1227.2 1460.1 L1240.7 1482.1 L1213.7 1482.1 Z" fill="#000" stroke="#000" stroke-width="1.5" stroke-linejoin="round"/>
<path d="M1227.2 1581.1 L1213.7 1559.1 L1240.7 1559.1 Z" fill="#000" stroke="#000" stroke-width="1.5" stroke-linejoin="round"/>
<path d="M1228.8 1614.9 L1228.8 1727.5"/>
<path d="M1228.8 1609.9 L1242.3 1631.9 L1215.3 1631.9 Z" fill="#000" stroke="#000" stroke-width="1.5" stroke-linejoin="round"/>
<path d="M1228.8 1732.5 L1215.3 1710.5 L1242.3 1710.5 Z" fill="#000" stroke="#000" stroke-width="1.5" stroke-linejoin="round"/>
<path d="M887.2 1392.2 L887.2 1421"/>
<path d="M887.2 1387.2 L898.7 1407.7 L875.7 1407.7 Z" fill="#000" stroke="#000" stroke-width="1.5" stroke-linejoin="round"/>
<path d="M887.2 1426 L875.7 1405.5 L898.7 1405.5 Z" fill="#000" stroke="#000" stroke-width="1.5" stroke-linejoin="round"/>
<path d="M887.2 1446.5 L887.2 1503.8"/>
<path d="M887.2 1441.5 L898.7 1462 L875.7 1462 Z" fill="#000" stroke="#000" stroke-width="1.5" stroke-linejoin="round"/>
<path d="M887.2 1508.8 L875.7 1488.3 L898.7 1488.3 Z" fill="#000" stroke="#000" stroke-width="1.5" stroke-linejoin="round"/>
<path d="M887.2 1529.3 L887.2 1581.4"/>
<path d="M887.2 1524.3 L898.7 1544.8 L875.7 1544.8 Z" fill="#000" stroke="#000" stroke-width="1.5" stroke-linejoin="round"/>
<path d="M887.2 1586.4 L875.7 1565.9 L898.7 1565.9 Z" fill="#000" stroke="#000" stroke-width="1.5" stroke-linejoin="round"/>
<path d="M951 1632 L1007 1598" stroke-width="3"/>
<path d="M1007 1598 L995.7 1616 L985.8 1599.7 Z" fill="#000" stroke="#000" stroke-width="1.5" stroke-linejoin="round"/>
<path d="M951 1632 L962.3 1614 L972.2 1630.3 Z" fill="#000" stroke="#000" stroke-width="1.5" stroke-linejoin="round"/>
<path d="M655 1497 L848.3 1604.6" stroke-width="3"/>
<path d="M650.7 1510.9 L633.7 1481.9 L667.7 1481.9 Z" fill="#000" stroke="#000" stroke-width="1.5" stroke-linejoin="round"/>
<path d="M851 1580 L868 1609 L834 1609 Z" fill="#000" stroke="#000" stroke-width="1.5" stroke-linejoin="round"/>
<path d="M1309.3 1738.8 L1457 1738.8"/>
<path d="M1304.3 1738.8 L1333.3 1721.8 L1333.3 1755.8 Z" fill="#000" stroke="#000" stroke-width="1.5" stroke-linejoin="round"/>
<path d="M1462 1738.8 L1433 1755.8 L1433 1721.8 Z" fill="#000" stroke="#000" stroke-width="1.5" stroke-linejoin="round"/>
<path d="M1481 1738.8 L1633 1738.8"/>
<path d="M1476 1738.8 L1505 1721.8 L1505 1755.8 Z" fill="#000" stroke="#000" stroke-width="1.5" stroke-linejoin="round"/>
<path d="M1638 1738.8 L1609 1755.8 L1609 1721.8 Z" fill="#000" stroke="#000" stroke-width="1.5" stroke-linejoin="round"/>
<path d="M1301.1 1605 L1301.1 1739" stroke-width="3.1" stroke-dasharray="24 11"/>
<path d="M1464.6 1510 L1464.6 1739" stroke-width="3.1" stroke-dasharray="24 11"/>
<path d="M1477 1505 L1477 1739" stroke-width="3.1" stroke-dasharray="24 11"/>
<path d="M1637.5 1412 L1637.5 1739" stroke-width="3.1" stroke-dasharray="24 11"/>
<path d="M1643.5 1412 L1643.5 1800" stroke-width="3.1" stroke-dasharray="24 11"/>
<text x="628" y="128.5" style="font-size:47.8px" xml:space="preserve">Inner Size : 76.00&#34;W  X  38.50&#34;D</text>
<text x="628" y="190" style="font-size:47.8px" xml:space="preserve">Inner Size of Drawer : 15.25&#34;D X 13.25&#34;W X 4.00&#34;H X 0.50&#34;T</text>
<text x="50" y="1307" xml:space="preserve">47.50&#34;</text>
<text x="100" y="1610" xml:space="preserve">29.50&#34;</text>
<text x="307" y="1607" xml:space="preserve">20.75&#34;</text>
<text x="325" y="1790" xml:space="preserve">3.25&#34;</text>
<text x="452" y="1672" xml:space="preserve">27.50&#34;</text>
<text x="278" y="1893" xml:space="preserve">14.50&#34;</text>
<text x="270" y="1965" xml:space="preserve">16.50&#34;</text>
<rect x="558" y="1897.2" width="115.6" height="29.2" fill="#fff" stroke="none"/>
<text x="560" y="1925" xml:space="preserve">37.25&#34;</text>
<rect x="558" y="1959.2" width="115.6" height="29.2" fill="#fff" stroke="none"/>
<text x="560" y="1987" xml:space="preserve">41.50&#34;</text>
<text x="898" y="1893" xml:space="preserve">17.25&#34;</text>
<text x="1151" y="1889" xml:space="preserve">12.50&#34;</text>
<text x="1148" y="1974" xml:space="preserve">14.25&#34;</text>
<text x="845" y="2197" text-anchor="middle" xml:space="preserve">37.25&#34;</text>
<text x="845" y="2258" text-anchor="middle" xml:space="preserve">41.50&#34;</text>
<text x="1514" y="2197" text-anchor="middle" xml:space="preserve">80.25&#34;</text>
<text x="1515" y="2255" text-anchor="middle" xml:space="preserve">86.00&#34;</text>
<text x="1640" y="2380" xml:space="preserve">63.75&#34;</text>
<text x="1734" y="1657" xml:space="preserve">24.75&#34;</text>
<rect x="1856" y="1724.2" width="115.6" height="29.2" fill="#fff" stroke="none"/>
<text x="1858" y="1752" xml:space="preserve">37.25&#34;</text>
<rect x="1852" y="1785.2" width="115.6" height="29.2" fill="#fff" stroke="none"/>
<text x="1854" y="1813" xml:space="preserve">43.25&#34;</text>
<text x="2315" y="1716" xml:space="preserve">12.50&#34;</text>
<text x="2317" y="1782" xml:space="preserve">14.25&#34;</text>
<text x="1244" y="571.5" xml:space="preserve">12.75&#34;</text>
<text x="689" y="856" xml:space="preserve">38.50&#34;</text>
<rect x="1777" y="774.2" width="115.6" height="29.2" fill="#fff" stroke="none"/>
<text x="1779" y="802" xml:space="preserve">14.50&#34;</text>
<rect x="1086" y="1179.2" width="115.6" height="29.2" fill="#fff" stroke="none"/>
<text x="1088" y="1207" xml:space="preserve">14.50&#34;</text>
<text x="1714.5" y="1225" xml:space="preserve">25.25&#34;</text>
<rect x="1579" y="1200.8" width="115.6" height="29.2" fill="#fff" stroke="none"/>
<text x="1581" y="1228.6" xml:space="preserve">15.00&#34;</text>
<rect x="1367.4" y="1279.8" width="115.6" height="29.2" fill="#fff" stroke="none"/>
<text x="1369.4" y="1307.6" xml:space="preserve">15.00&#34;</text>
<rect x="1500" y="1281.2" width="94.8" height="29.2" fill="#fff" stroke="none"/>
<text x="1502" y="1309" xml:space="preserve">9.00&#34;</text>
<rect x="1498" y="1386.5" width="94.8" height="29.2" fill="#fff" stroke="none"/>
<text x="1500" y="1414.3" xml:space="preserve">9.75&#34;</text>
<rect x="1336.3" y="1361.7" width="94.8" height="29.2" fill="#fff" stroke="none"/>
<text x="1338.3" y="1389.4" xml:space="preserve">5.75&#34;</text>
<rect x="1336.3" y="1430" width="94.8" height="29.2" fill="#fff" stroke="none"/>
<text x="1338.3" y="1457.7" xml:space="preserve">5.75&#34;</text>
<rect x="1336.3" y="1500.3" width="94.8" height="29.2" fill="#fff" stroke="none"/>
<text x="1338.3" y="1528.1" xml:space="preserve">6.50&#34;</text>
<rect x="1131.3" y="1371.8" width="94.8" height="29.2" fill="#fff" stroke="none"/>
<text x="1133.3" y="1399.6" xml:space="preserve">6.50&#34;</text>
<rect x="1116.5" y="1507" width="115.6" height="29.2" fill="#fff" stroke="none"/>
<text x="1118.5" y="1534.7" xml:space="preserve">10.25&#34;</text>
<rect x="1119.6" y="1661.2" width="115.6" height="29.2" fill="#fff" stroke="none"/>
<text x="1121.6" y="1689" xml:space="preserve">10.25&#34;</text>
<rect x="907" y="1398.2" width="94.8" height="29.2" fill="#fff" stroke="none"/>
<text x="909" y="1426" xml:space="preserve">5.00&#34;</text>
<rect x="895" y="1462.2" width="94.8" height="29.2" fill="#fff" stroke="none"/>
<text x="897" y="1490" xml:space="preserve">7.25&#34;</text>
<rect x="893" y="1543.2" width="94.8" height="29.2" fill="#fff" stroke="none"/>
<text x="895" y="1571" xml:space="preserve">5.75&#34;</text>
<rect x="968" y="1618.2" width="115.6" height="29.2" fill="#fff" stroke="none"/>
<text x="970" y="1646" xml:space="preserve">15.00&#34;</text>
<rect x="684" y="1479.2" width="115.6" height="29.2" fill="#fff" stroke="none"/>
<text x="686" y="1507" xml:space="preserve">18.75&#34;</text>
<text x="1338" y="1718" xml:space="preserve">17.25&#34;</text>
<text x="1508" y="1718" xml:space="preserve">17.25&#34;</text>
</g>
</svg>
</body></html>
